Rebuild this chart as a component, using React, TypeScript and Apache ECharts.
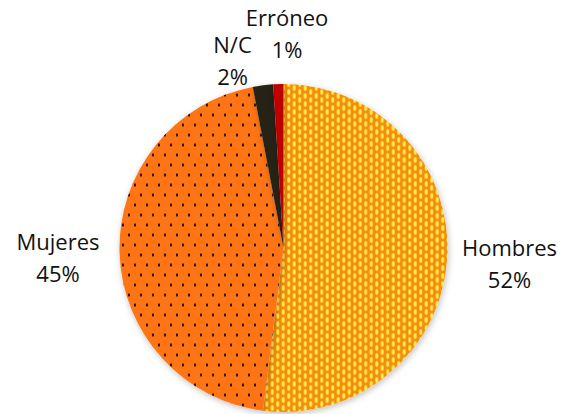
import React, { useEffect, useRef } from "react";
import * as echarts from "echarts";

const categories = ["Hombres", "Mujeres", "N/C", "Erróneo"];
const values = [52, 45, 2, 1];

const COLORS = ["#F28E0A", "#FF7413", "#262216", "#C00000"];
const LABEL_POS: [number, number][] = [
  [509.5, 262.5],
  [58, 257],
  [232.5, 60],
  [287, 32.5],
];

function makeHombresPattern(): HTMLCanvasElement {
  const c = document.createElement("canvas");
  const w = 11;
  const h = 16;
  c.width = w;
  c.height = h;
  const ctx = c.getContext("2d")!;
  ctx.fillStyle = COLORS[0];
  ctx.fillRect(0, 0, w, h);
  const pts: [number, number][] = [];
  const base: [number, number][] = [
    [2.75, 4],
    [2.75, 12],
    [8.25, 0],
    [8.25, 8],
    [8.25, 16],
  ];
  for (const [x, y] of base) {
    for (const dx of [-w, 0, w]) for (const dy of [-h, 0, h]) pts.push([x + dx, y + dy]);
  }
  for (const [x, y] of pts) {
    ctx.fillStyle = "#FCC02A";
    ctx.beginPath();
    ctx.ellipse(x, y, 1.8, 3.2, 0, 0, Math.PI * 2);
    ctx.fill();
    ctx.fillStyle = "#FFEA5C";
    ctx.beginPath();
    ctx.ellipse(x, y, 1.1, 2.2, 0, 0, Math.PI * 2);
    ctx.fill();
  }
  return c;
}

function makeMujeresPattern(): HTMLCanvasElement {
  const c = document.createElement("canvas");
  const w = 12;
  const h = 20;
  c.width = w;
  c.height = h;
  const ctx = c.getContext("2d")!;
  ctx.fillStyle = COLORS[1];
  ctx.fillRect(0, 0, w, h);
  ctx.fillStyle = "#2E140C";
  const base: [number, number][] = [
    [3, 5],
    [9, 15],
  ];
  for (const [x, y] of base) {
    ctx.beginPath();
    ctx.ellipse(x, y, 1.1, 1.8, 0, 0, Math.PI * 2);
    ctx.fill();
  }
  return c;
}

export default function App() {
  const ref = useRef<HTMLDivElement>(null);
  useEffect(() => {
    if (!ref.current) return;
    const chart = echarts.init(ref.current, null, { renderer: "svg" });
    const hp = makeHombresPattern();
    const mp = makeMujeresPattern();
    const fills: any[] = [
      { image: hp, repeat: "repeat", imageWidth: hp.width, imageHeight: hp.height },
      { image: mp, repeat: "repeat", imageWidth: mp.width, imageHeight: mp.height },
      COLORS[2],
      COLORS[3],
    ];
    chart.setOption({
      animation: false,
      backgroundColor: "#ffffff",
      series: [
        {
          type: "pie",
          center: [283.5, 248],
          radius: 164,
          startAngle: 90,
          clockwise: true,
          silent: true,
          percentPrecision: 0,
          itemStyle: {
            borderWidth: 0,
            shadowBlur: 6,
            shadowColor: "rgba(0,0,0,0.25)",
            shadowOffsetX: 1,
            shadowOffsetY: 2,
          },
          label: {
            show: true,
            position: "outside",
            alignTo: "none",
            overflow: "none",
            formatter: (p: any) => `${p.name}\n${Math.round(p.percent)}%`,
            fontFamily: "Open Sans",
            fontSize: 22,
            lineHeight: 32,
            color: "#111111",
            align: "center",
          },
          labelLine: { show: false },
          labelLayout: (params: any) => {
            const p = LABEL_POS[params.dataIndex];
            return { x: p[0], y: p[1], align: "center", verticalAlign: "middle", width: 140 };
          },
          emphasis: { disabled: true },
          data: categories.map((name, i) => ({
            name,
            value: values[i],
            itemStyle: { color: fills[i] },
          })),
        },
      ],
    });
    return () => chart.dispose();
  }, []);
  return (
    <div
      ref={ref}
      style={{ position: "fixed", left: 0, top: 0, width: 568, height: 414 }}
    />
  );
}
